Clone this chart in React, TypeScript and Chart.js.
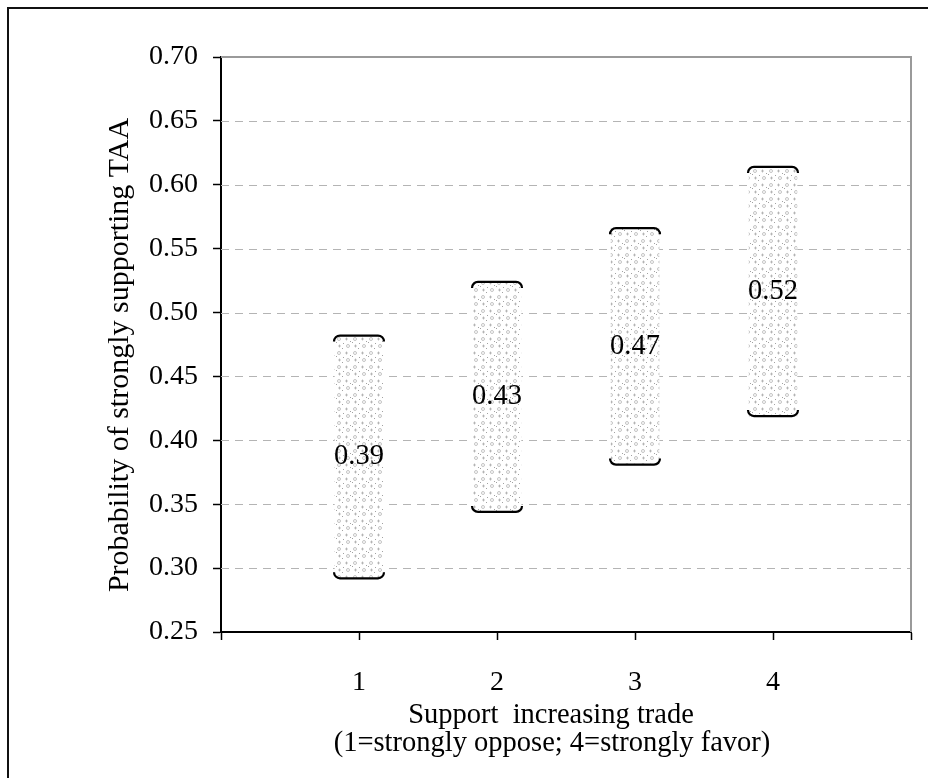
import React, { useEffect, useRef } from "react";
import { Chart, registerables } from "chart.js";

Chart.register(...registerables);

const categories = [1, 2, 3, 4];
const lowValues = [0.292, 0.344, 0.381, 0.419];
const highValues = [0.482, 0.524, 0.566, 0.614];
const pointLabels = ["0.39", "0.43", "0.47", "0.52"];
const yTicks = { min: 0.25, max: 0.7, step: 0.05 };
const xRange = { min: 0, max: 5 };
const yTitle = "Probability of strongly supporting TAA";
const xTitleLines = ["Support  increasing trade", "(1=strongly oppose; 4=strongly favor)"];

const FONT = "'Liberation Serif', 'Times New Roman', serif";

function makePattern(): CanvasPattern | string {
  const c = document.createElement("canvas");
  c.width = 16;
  c.height = 14;
  const g = c.getContext("2d");
  if (!g) return "#e4e4e4";
  g.fillStyle = "#ffffff";
  g.fillRect(0, 0, 16, 14);
  g.strokeStyle = "rgba(110,110,110,0.5)";
  g.lineWidth = 0.8;
  g.beginPath();
  g.arc(3, 3, 1.5, 0, Math.PI * 2);
  g.stroke();
  g.beginPath();
  g.arc(12, 10, 1.5, 0, Math.PI * 2);
  g.stroke();
  g.beginPath();
  g.moveTo(9, 3);
  g.lineTo(12, 3);
  g.moveTo(10.5, 1.5);
  g.lineTo(10.5, 4.5);
  g.moveTo(2, 10);
  g.lineTo(5, 10);
  g.moveTo(3.5, 8.5);
  g.lineTo(3.5, 11.5);
  g.stroke();
  g.fillStyle = "rgba(100,100,100,0.6)";
  g.fillRect(7, 7, 1, 1);
  g.fillRect(14, 5, 1, 1);
  g.fillRect(6, 12, 1, 1);
  g.fillRect(0, 6, 1, 1);
  return g.createPattern(c, "repeat") || "#e4e4e4";
}

const decorPlugin = {
  id: "decor",
  beforeDatasetsDraw(chart: any) {
    const { ctx, chartArea, scales } = chart;
    const y = scales.y;
    ctx.save();
    ctx.strokeStyle = "#b4b4b4";
    ctx.lineWidth = 1;
    ctx.setLineDash([8, 6]);
    y.ticks.forEach((t: any) => {
      if (t.value <= yTicks.min + 1e-9 || t.value >= yTicks.max - 1e-9) return;
      const py = Math.round(y.getPixelForValue(t.value)) + 0.5;
      ctx.beginPath();
      ctx.moveTo(chartArea.left, py);
      ctx.lineTo(chartArea.right, py);
      ctx.stroke();
    });
    ctx.setLineDash([]);
    ctx.strokeStyle = "#9a9a9a";
    ctx.lineWidth = 2;
    ctx.beginPath();
    ctx.moveTo(chartArea.left, chartArea.top);
    ctx.lineTo(chartArea.right, chartArea.top);
    ctx.lineTo(chartArea.right, chartArea.bottom);
    ctx.stroke();
    ctx.restore();
  },
  afterDatasetsDraw(chart: any) {
    const { ctx } = chart;
    const meta = chart.getDatasetMeta(0);
    ctx.save();
    meta.data.forEach((el: any, i: number) => {
      const p = el.getProps(["x", "y", "base", "width"], true);
      const half = p.width / 2 + 1;
      const l = p.x - half;
      const r = p.x + half;
      const top = Math.min(p.y, p.base);
      const bot = Math.max(p.y, p.base);
      const rad = 6;
      ctx.strokeStyle = "#000";
      ctx.lineWidth = 2.2;
      ctx.beginPath();
      ctx.moveTo(l, top + rad);
      ctx.arcTo(l, top, l + rad, top, rad);
      ctx.lineTo(r - rad, top);
      ctx.arcTo(r, top, r, top + rad, rad);
      ctx.stroke();
      ctx.beginPath();
      ctx.moveTo(l, bot - rad);
      ctx.arcTo(l, bot, l + rad, bot, rad);
      ctx.lineTo(r - rad, bot);
      ctx.arcTo(r, bot, r, bot - rad, rad);
      ctx.stroke();
      ctx.fillStyle = "#000";
      ctx.font = `28.5px ${FONT}`;
      ctx.textAlign = "center";
      ctx.textBaseline = "middle";
      ctx.fillText(pointLabels[i], p.x, (top + bot) / 2);
    });
    ctx.restore();
  },
  afterDraw(chart: any) {
    const { ctx } = chart;
    ctx.save();
    ctx.fillStyle = "#111";
    ctx.fillRect(7, 7, 2, 800);
    ctx.fillRect(7, 7, 960, 2);
    ctx.fillStyle = "#000";
    ctx.textAlign = "center";
    ctx.textBaseline = "middle";
    ctx.save();
    ctx.font = `30px ${FONT}`;
    ctx.translate(120, 355);
    ctx.rotate(-Math.PI / 2);
    ctx.fillText(yTitle, 0, 0);
    ctx.restore();
    ctx.font = `28.5px ${FONT}`;
    ctx.fillText(xTitleLines[0], 551, 716);
    ctx.fillText(xTitleLines[1], 552, 744);
    ctx.restore();
  },
};

export default function App() {
  const ref = useRef<HTMLCanvasElement | null>(null);
  useEffect(() => {
    if (!ref.current) return;
    const pattern = makePattern();
    const chart = new Chart(ref.current, {
      type: "bar",
      data: {
        datasets: [
          {
            data: categories.map((c, i) => ({ x: c, y: [lowValues[i], highValues[i]] })) as any,
            backgroundColor: pattern as any,
            borderWidth: 0,
            barThickness: 48,
          },
        ],
      },
      options: {
        responsive: false,
        animation: false,
        layout: { padding: { left: 0, right: 17, top: 57, bottom: 0 } },
        plugins: { legend: { display: false }, tooltip: { enabled: false } },
        scales: {
          x: {
            type: "linear",
            min: xRange.min,
            max: xRange.max,
            offset: false,
            afterFit: (s: any) => {
              s.height = 146;
              s.paddingLeft = 0;
              s.paddingRight = 0;
            },
            ticks: {
              stepSize: 1,
              padding: 26,
              color: "#000",
              font: { family: FONT, size: 28 },
              callback: (v: any) => (v >= 1 && v <= 4 ? String(v) : ""),
              maxRotation: 0,
              autoSkip: false,
            },
            grid: {
              offset: false,
              drawOnChartArea: false,
              drawTicks: true,
              tickLength: 8,
              tickColor: "#000",
              tickWidth: 1.5,
            },
            border: { display: true, color: "#000", width: 2 },
          },
          y: {
            min: yTicks.min,
            max: yTicks.max,
            afterFit: (s: any) => {
              s.width = 221;
            },
            ticks: {
              stepSize: yTicks.step,
              padding: 15,
              color: "#000",
              font: { family: FONT, size: 28 },
              callback: (v: any) => Number(v).toFixed(2),
            },
            grid: {
              drawOnChartArea: false,
              drawTicks: true,
              tickLength: 8,
              tickColor: "#000",
              tickWidth: 1.5,
            },
            border: { display: true, color: "#000", width: 2 },
          },
        },
      },
      plugins: [decorPlugin],
    });
    return () => chart.destroy();
  }, []);
  return (
    <div style={{ position: "absolute", left: 0, top: 0, width: 928, height: 778, background: "#fff", overflow: "hidden" }}>
      <canvas ref={ref} width={928} height={778} style={{ display: "block" }} />
    </div>
  );
}
